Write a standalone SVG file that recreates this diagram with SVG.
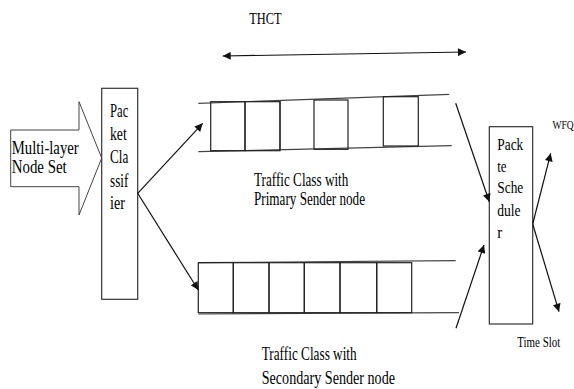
<svg xmlns="http://www.w3.org/2000/svg" width="574" height="389" viewBox="0 0 574 389">
  <style>
    .t { font-family: "Liberation Serif", "Times New Roman", serif; fill: #000; }
    .box { fill: #fff; stroke: #333; stroke-width: 1.2; }
    .rail { stroke: #444; stroke-width: 1.2; fill: none; }
    .cell { fill: none; stroke: #222; stroke-width: 1.2; }
    .conn { stroke: #111; stroke-width: 1.2; fill: none; }
  </style>
  <defs>
    <marker id="ah" viewBox="0 0 10 10" refX="10" refY="5" markerWidth="9" markerHeight="8" markerUnits="userSpaceOnUse" orient="auto-start-reverse">
      <path d="M0,0 L10,5 L0,10 z" fill="#111"/>
    </marker>
  </defs>
  <rect width="574" height="389" fill="#fff"/>

  <!-- input block arrow -->
  <g id="node-set">
    <polygon points="10.7,130 79,130 79,101.7 101.7,158 79,215 79,186.7 10.7,186.7" fill="#fff" stroke="#444" stroke-width="1"/>
    <text class="t" x="11.7" y="154" font-size="19.5" textLength="67" lengthAdjust="spacingAndGlyphs">Multi-layer</text>
    <text class="t" x="11.7" y="173" font-size="19.5" textLength="55" lengthAdjust="spacingAndGlyphs">Node Set</text>
  </g>

  <!-- classifier -->
  <g id="classifier">
    <rect class="box" x="101.7" y="88.3" width="36" height="211"/>
    <text class="t" x="110" y="116.7" font-size="18.5" textLength="18.3" lengthAdjust="spacingAndGlyphs">Pac</text>
    <text class="t" x="110" y="139.5" font-size="18.5" textLength="16.7" lengthAdjust="spacingAndGlyphs">ket</text>
    <text class="t" x="110" y="163" font-size="18.5" textLength="18.3" lengthAdjust="spacingAndGlyphs">Cla</text>
    <text class="t" x="110" y="186.5" font-size="18.5" textLength="18.3" lengthAdjust="spacingAndGlyphs">ssif</text>
    <text class="t" x="110" y="208.5" font-size="18.5" textLength="15" lengthAdjust="spacingAndGlyphs">ier</text>
  </g>

  <!-- primary queue -->
  <g id="queue-primary">
    <line class="rail" x1="198.3" y1="103.3" x2="449.3" y2="94.3"/>
    <line class="rail" x1="198.3" y1="151.7" x2="451.7" y2="145.7"/>
    <rect class="cell" x="210.7" y="101.7" width="34.3" height="49"/>
    <rect class="cell" x="245" y="101.7" width="35" height="49"/>
    <line class="cell" x1="280" y1="101" x2="280" y2="149.7"/>
    <rect class="cell" x="314" y="100" width="34" height="49.3"/>
    <rect class="cell" x="383.3" y="96.7" width="35" height="49.3"/>
    <text class="t" x="254" y="186" font-size="18" textLength="94.3" lengthAdjust="spacingAndGlyphs">Traffic Class with</text>
    <text class="t" x="254" y="205" font-size="18" textLength="111" lengthAdjust="spacingAndGlyphs">Primary Sender node</text>
  </g>

  <!-- secondary queue -->
  <g id="queue-secondary">
    <line class="rail" x1="198.3" y1="262.7" x2="455.7" y2="260.7"/>
    <line class="rail" x1="198.3" y1="314" x2="459" y2="312.7"/>
    <rect class="cell" x="198.3" y="262.7" width="35" height="50"/>
    <rect class="cell" x="233.3" y="262.7" width="35.7" height="50"/>
    <rect class="cell" x="269" y="262.7" width="35.3" height="50"/>
    <rect class="cell" x="304.3" y="262.7" width="35.7" height="50"/>
    <rect class="cell" x="340" y="262.7" width="36.7" height="50"/>
    <rect class="cell" x="376.7" y="262.7" width="35" height="50"/>
    <text class="t" x="261.7" y="360" font-size="18" textLength="95" lengthAdjust="spacingAndGlyphs">Traffic Class with</text>
    <text class="t" x="261.7" y="384" font-size="18" textLength="133.3" lengthAdjust="spacingAndGlyphs">Secondary Sender node</text>
  </g>

  <!-- scheduler -->
  <g id="scheduler">
    <rect class="box" x="489.3" y="126.7" width="43.4" height="197.3"/>
    <text class="t" x="497.3" y="150" font-size="17.5" textLength="26" lengthAdjust="spacingAndGlyphs">Pack</text>
    <text class="t" x="497.3" y="171.7" font-size="17.5" textLength="9.3" lengthAdjust="spacingAndGlyphs">te</text>
    <text class="t" x="497.3" y="193.3" font-size="17.5" textLength="26" lengthAdjust="spacingAndGlyphs">Sche</text>
    <text class="t" x="497.3" y="216.3" font-size="17.5" textLength="23.3" lengthAdjust="spacingAndGlyphs">dule</text>
    <text class="t" x="497.3" y="238.3" font-size="17.5" textLength="5" lengthAdjust="spacingAndGlyphs">r</text>
  </g>

  <!-- labels (narrowed horizontally with a scale transform) -->
  <g id="labels">
    <text class="t" x="249.3" y="24" font-size="16" textLength="32.3" lengthAdjust="spacingAndGlyphs">THCT</text>
    <text class="t" transform="translate(552.5,129.3) scale(0.76,1)" font-size="12.5">WFQ</text>
    <text class="t" transform="translate(517.3,346.7) scale(0.78,1)" font-size="14">Time Slot</text>
  </g>

  <!-- connectors -->
  <g id="connectors">
    <line class="conn" x1="222.7" y1="56" x2="466" y2="52" marker-start="url(#ah)" marker-end="url(#ah)"/>
    <line class="conn" x1="137.7" y1="193.3" x2="202.7" y2="123.3" marker-end="url(#ah)"/>
    <line class="conn" x1="137.7" y1="193.3" x2="198.3" y2="290" marker-end="url(#ah)"/>
    <line class="conn" x1="455.7" y1="103.3" x2="489.3" y2="201.7" marker-end="url(#ah)"/>
    <line class="conn" x1="456" y1="328.3" x2="484" y2="245" marker-end="url(#ah)"/>
    <line class="conn" x1="532.7" y1="224" x2="550.7" y2="153.3" marker-end="url(#ah)"/>
    <line class="conn" x1="532.7" y1="224" x2="559" y2="311.7" marker-end="url(#ah)"/>
  </g>
</svg>
